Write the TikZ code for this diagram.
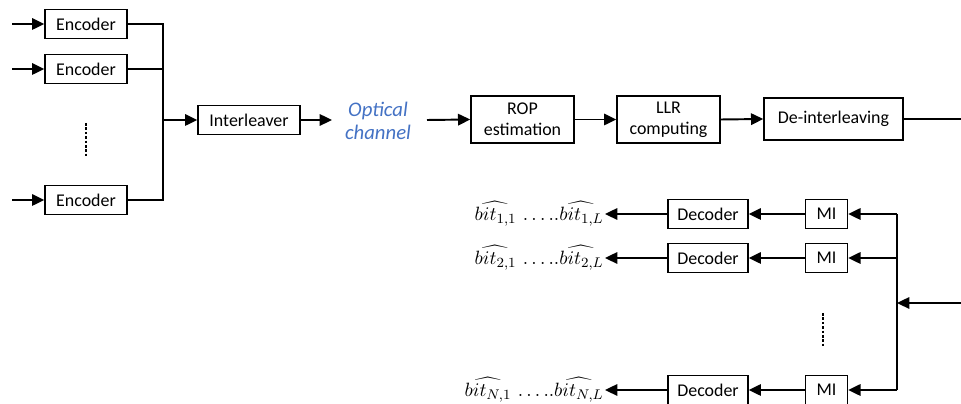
\documentclass[tikz,border=0pt]{standalone}
\usepackage{fontspec}
\setmainfont{Carlito}
\usetikzlibrary{arrows.meta,positioning}
\definecolor{optblue}{HTML}{4472C4}

\begin{document}
\begin{tikzpicture}[x=0.02cm,y=-0.02cm,
  every node/.style={font=\fontsize{10.2}{12}\selectfont},
  blk/.style={draw,line width=0.8pt,inner sep=0pt,minimum height=0.58cm,align=center},
  arr/.style={line width=1.1pt,-{Triangle[length=7pt,width=6.5pt]}},
  bus/.style={line width=1.1pt},
  vdots/.style={line width=0.8pt,dash pattern=on 1.5pt off 1pt}]

  \useasboundingbox (0,0) rectangle (961,404);

  % encoders and interleaver
  \node[blk,minimum width=1.64cm] (enc1) at (86,24) {Encoder};
  \node[blk,minimum width=1.64cm] (enc2) at (86,69) {Encoder};
  \node[blk,minimum width=1.64cm] (encN) at (86,200) {Encoder};
  \node[blk,minimum width=2.04cm] (intl) at (249,120) {Interleaver};
  \draw[vdots] (86,123) -- (86,157);

  \foreach \e in {enc1,enc2,encN} {
    \coordinate (in-\e) at (12,0 |- \e.west);
    \draw[arr] (in-\e) -- (\e.west);
  }

  % left bus
  \coordinate (busL) at (163,120);
  \draw[bus] (enc1.east) -| (busL |- encN.east) -- (encN.east);
  \draw[bus] (enc2.east) -- (enc2.east -| busL);
  \draw[arr] (busL) -- (intl.west);

  % channel
  \node[text=optblue,font=\fontsize{11.8}{13.5}\selectfont\itshape,align=center] (chan) at (378,121) {Optical\\channel};
  \coordinate (intl-out) at (332,120);
  \draw[arr] (intl.east) -- (intl-out);

  % receiver chain
  \node[blk,minimum width=2.06cm,minimum height=0.94cm] (rop) at (522.5,119.5) {ROP\\estimation};
  \node[blk,minimum width=2.06cm,minimum height=0.94cm] (llr) at (668.5,119.5) {LLR\\computing};
  \node[blk,minimum width=2.78cm,minimum height=0.84cm] (deint) at (833.5,119) {De-interleaving};
  \coordinate (chan-out) at (427,120);
  \coordinate (deint-out) at (961,119);
  \draw[arr] (chan-out) -- (rop.west);
  \draw[arr] (rop.east) -- (llr.west);
  \draw[arr] (llr.east) -- (deint.west);
  \draw[bus] (deint.east) -- (deint-out);

  % decoding branches
  \coordinate (busR) at (897,303);
  \coordinate (rin) at (961,303);
  \foreach \i/\y in {1/214,2/258,N/390} {
    \node[blk,minimum width=0.84cm] (mi\i) at (826.5,\y) {MI};
    \node[blk,minimum width=1.6cm] (dec\i) at (708,\y) {Decoder};
    \node[anchor=east,inner sep=0.5pt,font=\fontsize{10.8}{12}\selectfont] (bit\i) at (605,\y)
      {$\widehat{bit_{\i,1}}\,\ldots..\widehat{bit_{\i,L}}$};
    \draw[arr] (busR |- mi\i.east) -- (mi\i.east);
    \draw[arr] (mi\i.west) -- (dec\i.east);
    \draw[arr] (dec\i.west) -- (bit\i.east);
  }
  \draw[bus] (busR |- mi1.east) -- (busR |- miN.east);
  \draw[arr] (rin) -- (busR);
  \draw[vdots] (823,313) -- (823,347);
\end{tikzpicture}
\end{document}
